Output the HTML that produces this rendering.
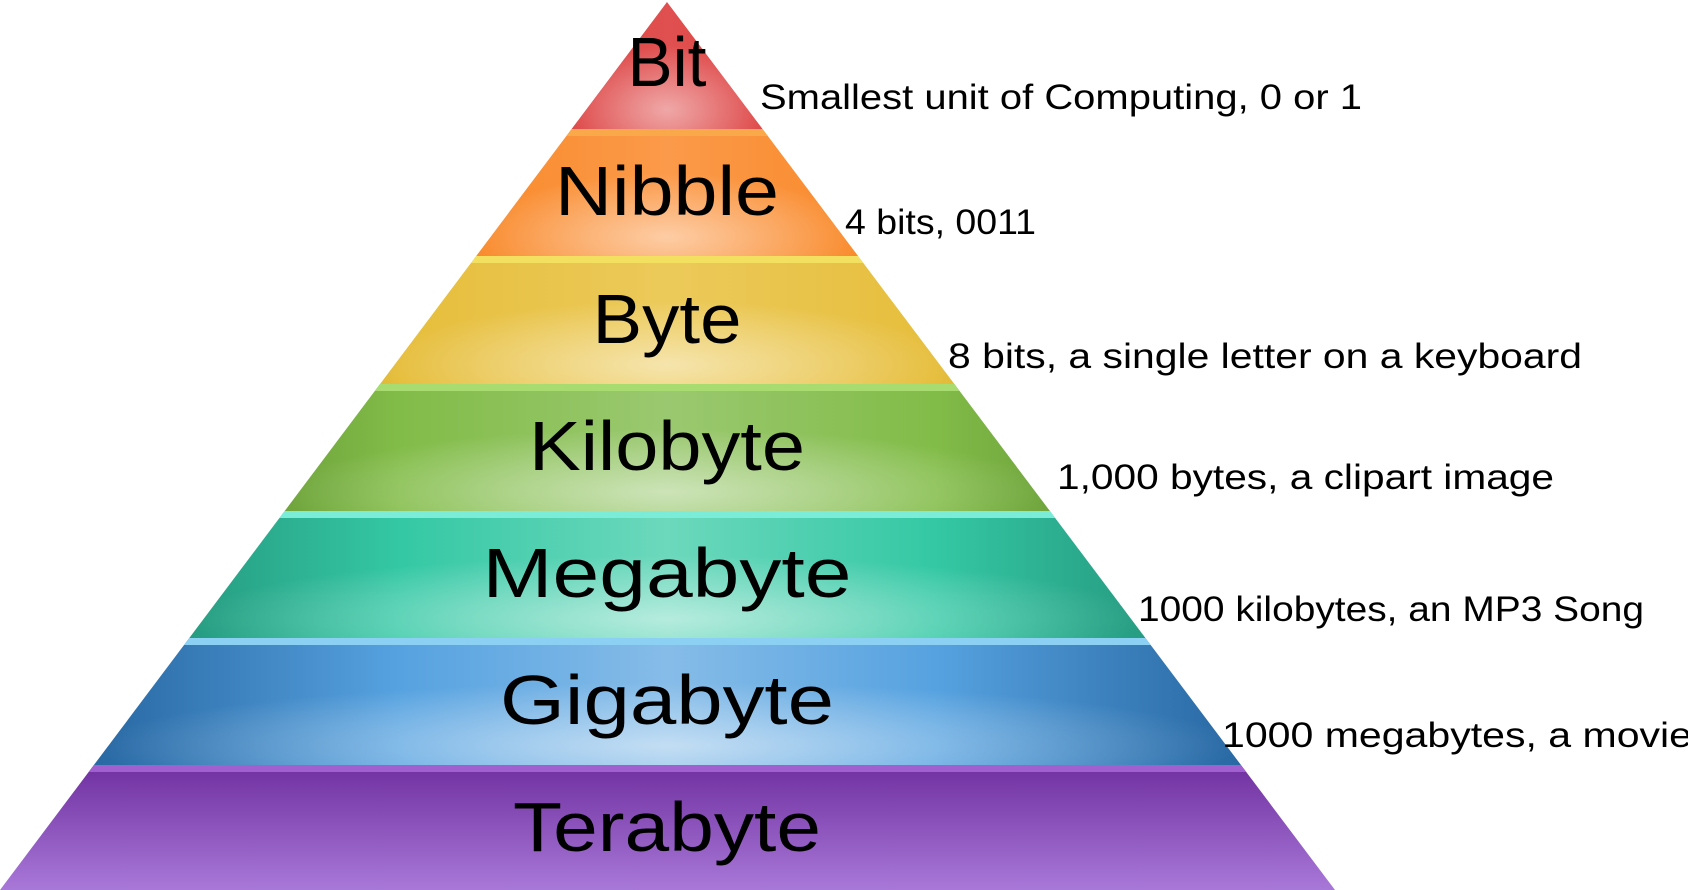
<!DOCTYPE html>
<html><head><meta charset="utf-8"><style>
html,body{margin:0;padding:0;background:#fff;}
svg{display:block;}
text{font-family:"Liberation Sans","DejaVu Sans",sans-serif;}
</style></head><body>
<svg width="1688" height="890" viewBox="0 0 1688 890" xmlns="http://www.w3.org/2000/svg">
<defs>
<clipPath id="tri"><polygon points="667,2 1335,890 0,890"/></clipPath>
<radialGradient id="hl" cx="0.5" cy="0.85" r="0.5" gradientUnits="objectBoundingBox">
<stop offset="0" stop-color="#fff" stop-opacity="0.5"/><stop offset="1" stop-color="#fff" stop-opacity="0"/></radialGradient>
<linearGradient id="g0" x1="0" x2="1"><stop offset="0" stop-color="#a01818"/><stop offset="0.3" stop-color="#d82a2a"/><stop offset="0.5" stop-color="#e05050"/><stop offset="0.7" stop-color="#d82a2a"/><stop offset="1" stop-color="#a01818"/></linearGradient>
<linearGradient id="g1" x1="0" x2="1"><stop offset="0" stop-color="#a84408"/><stop offset="0.3" stop-color="#f88420"/><stop offset="0.5" stop-color="#fb9a4a"/><stop offset="0.7" stop-color="#f88420"/><stop offset="1" stop-color="#a84408"/></linearGradient>
<linearGradient id="g2" x1="0" x2="1"><stop offset="0" stop-color="#a07818"/><stop offset="0.3" stop-color="#e6be3c"/><stop offset="0.5" stop-color="#ecca5a"/><stop offset="0.7" stop-color="#e6be3c"/><stop offset="1" stop-color="#a07818"/></linearGradient>
<linearGradient id="g3" x1="0" x2="1"><stop offset="0" stop-color="#446c24"/><stop offset="0.3" stop-color="#82bc48"/><stop offset="0.5" stop-color="#9ac870"/><stop offset="0.7" stop-color="#82bc48"/><stop offset="1" stop-color="#446c24"/></linearGradient>
<linearGradient id="g4" x1="0" x2="1"><stop offset="0" stop-color="#1a7462"/><stop offset="0.3" stop-color="#34c8a4"/><stop offset="0.5" stop-color="#6cd8bc"/><stop offset="0.7" stop-color="#34c8a4"/><stop offset="1" stop-color="#1a7462"/></linearGradient>
<linearGradient id="g5" x1="0" x2="1"><stop offset="0" stop-color="#1a5690"/><stop offset="0.3" stop-color="#56a2e0"/><stop offset="0.5" stop-color="#86bce8"/><stop offset="0.7" stop-color="#56a2e0"/><stop offset="1" stop-color="#1a5690"/></linearGradient>
<linearGradient id="g6" x1="0" x2="0" y1="0" y2="1"><stop offset="0" stop-color="#7030a0"/><stop offset="1" stop-color="#a878d8"/></linearGradient>
</defs>
<g clip-path="url(#tri)">
<rect x="0" y="0" width="1335" height="129" fill="url(#g0)"/>
<rect x="0" y="129" width="1335" height="127" fill="url(#g1)"/>
<rect x="0" y="256" width="1335" height="128" fill="url(#g2)"/>
<rect x="0" y="384" width="1335" height="127" fill="url(#g3)"/>
<rect x="0" y="511" width="1335" height="127" fill="url(#g4)"/>
<rect x="0" y="638" width="1335" height="127" fill="url(#g5)"/>
<rect x="0" y="765" width="1335" height="125" fill="url(#g6)"/>
<rect x="560" y="0" width="214" height="129" fill="url(#hl)"/>
<rect x="470" y="129" width="394" height="127" fill="url(#hl)"/>
<rect x="380" y="256" width="574" height="128" fill="url(#hl)"/>
<rect x="285" y="384" width="764" height="127" fill="url(#hl)"/>
<rect x="190" y="511" width="954" height="127" fill="url(#hl)"/>
<rect x="95" y="638" width="1144" height="127" fill="url(#hl)"/>
<rect x="0" y="129" width="1335" height="7" fill="#f9a84a"/>
<rect x="0" y="256" width="1335" height="7" fill="#f4e060"/>
<rect x="0" y="384" width="1335" height="7" fill="#a8dc70"/>
<rect x="0" y="511" width="1335" height="7" fill="#7aecd8"/>
<rect x="0" y="638" width="1335" height="7" fill="#8cd0f4"/>
<rect x="0" y="765" width="1335" height="7" fill="#a060d0"/>
</g>
<g font-size="70" text-anchor="middle" fill="#000">
<text x="667" y="86" textLength="79" lengthAdjust="spacingAndGlyphs">Bit</text>
<text x="667" y="215" textLength="224" lengthAdjust="spacingAndGlyphs">Nibble</text>
<text x="667" y="343" textLength="149" lengthAdjust="spacingAndGlyphs">Byte</text>
<text x="667" y="470" textLength="276" lengthAdjust="spacingAndGlyphs">Kilobyte</text>
<text x="667" y="597" textLength="369" lengthAdjust="spacingAndGlyphs">Megabyte</text>
<text x="667" y="724" textLength="334" lengthAdjust="spacingAndGlyphs">Gigabyte</text>
<text x="667" y="851" textLength="308" lengthAdjust="spacingAndGlyphs">Terabyte</text>
</g>
<g font-size="35" fill="#000">
<text x="760" y="109" textLength="602" lengthAdjust="spacingAndGlyphs">Smallest unit of Computing, 0 or 1</text>
<text x="845" y="234" textLength="191" lengthAdjust="spacingAndGlyphs">4 bits, 0011</text>
<text x="948" y="368" textLength="634" lengthAdjust="spacingAndGlyphs">8 bits, a single letter on a keyboard</text>
<text x="1057" y="489" textLength="497" lengthAdjust="spacingAndGlyphs">1,000 bytes, a clipart image</text>
<text x="1138" y="621" textLength="506" lengthAdjust="spacingAndGlyphs">1000 kilobytes, an MP3 Song</text>
<text x="1222" y="747" textLength="470" lengthAdjust="spacingAndGlyphs">1000 megabytes, a movie</text>
</g>
</svg>
</body></html>
